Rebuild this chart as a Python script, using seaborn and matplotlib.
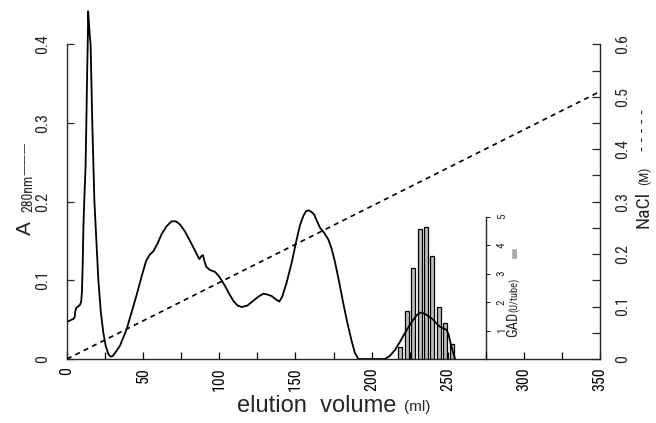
import matplotlib
matplotlib.use("Agg")
import matplotlib.pyplot as plt
from matplotlib.ticker import MultipleLocator, FixedLocator
from matplotlib import font_manager
import seaborn as sns
import pandas as pd

# ---- data ----
a280_x = [0, 2, 4.2, 5.0, 5.4, 6.0, 7.5, 8.6, 9.3, 9.8, 10.3, 10.8, 11.5, 12.2,
          12.7, 13.2, 13.6, 13.9, 14.3, 15.0, 15.5, 16.6, 18.0, 19.3, 20.6, 22.2,
          23.8, 25.5, 27.2, 28.7, 30.2, 32, 34.8, 39.2, 42.5, 45.8, 49, 52, 54.5,
          56.7, 59.5, 62.2, 65.5, 68.7, 71.5, 74.2, 77.5, 80.8, 84, 86.9, 88.3,
          89.3, 90.3, 91.5, 94, 97, 99.5, 101.5, 103.7, 106.5, 109.2, 112, 114.7,
          118.5, 122.3, 125.5, 128.9, 131.5, 134.4, 137, 139.4, 141.3, 144.2,
          147.5, 150.8, 153, 155.2, 157, 158.7, 160.5, 162.2, 164, 166.1, 169,
          171.6, 173.8, 176, 178.7, 181.4, 184.2, 186.9, 189, 191.3, 208.8, 212,
          215.4, 218.7, 221.9, 224.7, 227.4, 229.8, 232.2, 234.2, 236.2, 238.4,
          240.5, 242.7, 244.9, 247, 249.3, 250.7, 251.9, 253.4, 254.8]
a280_y = [0.047, 0.049, 0.051, 0.053, 0.060, 0.065, 0.067, 0.069, 0.073, 0.085,
          0.120, 0.170, 0.210, 0.245, 0.300, 0.360, 0.400, 0.442, 0.430, 0.410,
          0.400, 0.300, 0.200, 0.150, 0.100, 0.060, 0.034, 0.016, 0.006, 0.003,
          0.004, 0.009, 0.017, 0.038, 0.060, 0.082, 0.105, 0.125, 0.133, 0.137,
          0.147, 0.159, 0.169, 0.175, 0.175, 0.171, 0.162, 0.150, 0.138, 0.127,
          0.131, 0.132, 0.124, 0.117, 0.113, 0.111, 0.106, 0.100, 0.093, 0.083,
          0.074, 0.068, 0.066, 0.068, 0.074, 0.079, 0.083, 0.082, 0.080, 0.076,
          0.073, 0.079, 0.097, 0.122, 0.152, 0.170, 0.182, 0.188, 0.189, 0.187,
          0.184, 0.176, 0.167, 0.160, 0.152, 0.140, 0.123, 0.098, 0.071, 0.045,
          0.023, 0.008, 0.0, 0.0, 0.004, 0.0115, 0.022, 0.033, 0.042, 0.050,
          0.056, 0.059, 0.058, 0.056, 0.053, 0.050, 0.045, 0.041, 0.039, 0.037,
          0.030, 0.020, 0.009, 0.0]

nacl_x = [0, 350]
nacl_y = [0.0, 0.51]

gad_x = [218.6, 223.4, 227.4, 231.8, 235.7, 239.9, 244.1, 248.4, 252.6]
gad_y = [0.43, 1.68, 3.2, 4.58, 4.62, 3.61, 1.81, 1.25, 0.53]

x_ticks = [0, 50, 100, 150, 200, 250, 300, 350]
a_ticks = [0, 0.1, 0.2, 0.3, 0.4]
a_labels = ["0", "0.1", "0.2", "0.3", "0.4"]
nacl_ticks = [0, 0.1, 0.2, 0.3, 0.4, 0.5, 0.6]
nacl_labels = ["0", "0.1", "0.2", "0.3", "0.4", "0.5", "0.6"]
nacl_minor = [0.05, 0.15, 0.25, 0.35, 0.45, 0.55]
gad_ticks = [1, 2, 3, 4, 5]

sns.set_style("ticks")
names = {f.name for f in font_manager.fontManager.ttflist}
narrow = None
for cand in ["Liberation Sans Narrow", "Roboto Condensed", "Open Sans Condensed",
             "DejaVu Sans Condensed", "Noto Sans Condensed"]:
    if cand in names:
        narrow = cand
        break
if narrow is None:
    plt.rcParams['font.family'] = ['DejaVu Sans']
    NARROW = ['DejaVu Sans']
    shrink = 0.85
else:
    plt.rcParams['font.family'] = [narrow, 'DejaVu Sans']
    NARROW = [narrow, 'DejaVu Sans']
    shrink = 1.0

fig = plt.figure(figsize=(6.56, 4.23), dpi=100)
fig.patch.set_facecolor("white")
ax = fig.add_axes([67/656, 1-359/423, 533/656, 354/423])
ax2 = ax.twinx()
ax3 = ax.twinx()

ax3.set_zorder(1)
ax.set_zorder(2)
ax2.set_zorder(3)
ax.patch.set_visible(False)
ax2.patch.set_visible(False)
ax3.patch.set_visible(False)

df_gad = pd.DataFrame({"x": gad_x, "y": gad_y})
sns.barplot(data=df_gad, x="x", y="y", native_scale=True, width=0.62,
            color="#bdbdbd", edgecolor="black", linewidth=0.9,
            errorbar=None, ax=ax3)

df_a = pd.DataFrame({"x": a280_x, "y": a280_y})
sns.lineplot(data=df_a, x="x", y="y", color="black", lw=1.3, ax=ax,
             sort=False, estimator=None)
df_n = pd.DataFrame({"x": nacl_x, "y": nacl_y})
sns.lineplot(data=df_n, x="x", y="y", color="black", lw=1.2, ax=ax2,
             linestyle=(0, (3, 2.6)), estimator=None)

for a in (ax, ax2, ax3):
    a.set_xlim(0, 350)
    a.set_xlabel("")
    a.set_ylabel("")

ax.set_ylim(0, 0.45)
ax2.set_ylim(0, 0.675)
ax3.set_ylim(0, 12.43)

tl = 11.5 * shrink

ax.spines['top'].set_visible(False)
ax.spines['right'].set_visible(False)
ax.spines['left'].set_bounds(0, 0.4)
ax.spines['bottom'].set_bounds(0, 350)
ax.set_xticks(x_ticks)
ax.set_xticklabels([str(v) for v in x_ticks])
ax.xaxis.set_minor_locator(MultipleLocator(25))
ax.set_yticks(a_ticks)
ax.set_yticklabels(a_labels)
ax.tick_params(axis='x', which='both', direction='in', labelrotation=90,
               labelsize=tl, pad=6, length=5, width=0.9, colors='black')
ax.tick_params(axis='y', direction='in', labelrotation=90, labelsize=tl,
               pad=12, length=5, width=0.9)
for lab in ax.get_yticklabels():
    lab.set_va('center')

for s in ('top', 'left', 'bottom'):
    ax2.spines[s].set_visible(False)
ax2.spines['right'].set_bounds(0, 0.6)
ax2.set_yticks(nacl_ticks)
ax2.set_yticklabels(nacl_labels)
ax2.yaxis.set_minor_locator(FixedLocator(nacl_minor))
ax2.tick_params(axis='y', which='both', direction='in', labelrotation=90,
                labelsize=tl, pad=11, length=6, width=0.9)
for lab in ax2.get_yticklabels():
    lab.set_va('center')

for s in ('top', 'left', 'bottom'):
    ax3.spines[s].set_visible(False)
ax3.spines['right'].set_position(('data', 275))
ax3.spines['right'].set_bounds(0, 5)
ax3.set_yticks(gad_ticks)
ax3.set_yticklabels([str(v) for v in gad_ticks])
ax3.tick_params(axis='y', direction='out', labelrotation=90, labelsize=8 * shrink,
                pad=5, length=3, width=0.8)
ax3.tick_params(axis='x', bottom=False, labelbottom=False)
for lab in ax3.get_yticklabels():
    lab.set_va('center')
for sp in list(ax.spines.values()) + list(ax2.spines.values()):
    sp.set_linewidth(1.0)
ax3.spines['right'].set_linewidth(1.0)

# axis titles
fig.text(25/656, 1-228/423, "A", rotation=90, ha='center', va='center',
         fontsize=15, family=['Liberation Sans', 'DejaVu Sans'])
fig.text(28/656, 1-193/423, "280nm", rotation=90, ha='center', va='center',
         fontsize=10 * shrink, family=NARROW)
fig.text(25/656, 1-158/423, "———", rotation=90, ha='center', va='center',
         fontsize=8, family=['DejaVu Sans'])

fig.text(643/656, 1-209/423, "NaCl", rotation=90, ha='center', va='center',
         fontsize=14 * shrink, family=NARROW)
fig.text(644/656, 1-176/423, "(M)", rotation=90, ha='center', va='center',
         fontsize=9.5 * shrink, family=NARROW)
fig.text(643/656, 1-130/423, "- - - - -", rotation=90, ha='center', va='center',
         fontsize=10, family=['DejaVu Sans'])

fig.text(513/656, 1-324/423, "GAD", rotation=90, ha='center', va='center',
         fontsize=10.5 * shrink, family=NARROW)
fig.text(515/656, 1-295/423, "(U/tube)", rotation=90, ha='center', va='center',
         fontsize=7.5 * shrink, family=NARROW)
fig.text(514/656, 1-252/423, "▬", rotation=90, ha='center', va='center',
         fontsize=9, color='#aaaaaa', family=['DejaVu Sans'])

fig.text(317/656, 1-406/423, "elution  volume", ha='center', va='center',
         fontsize=17, family=['Liberation Sans', 'DejaVu Sans'])
fig.text(417/656, 1-407/423, "(ml)", ha='center', va='center',
         fontsize=11, family=['Liberation Sans', 'DejaVu Sans'])

fig.savefig("out.png", dpi=100, facecolor="white")
